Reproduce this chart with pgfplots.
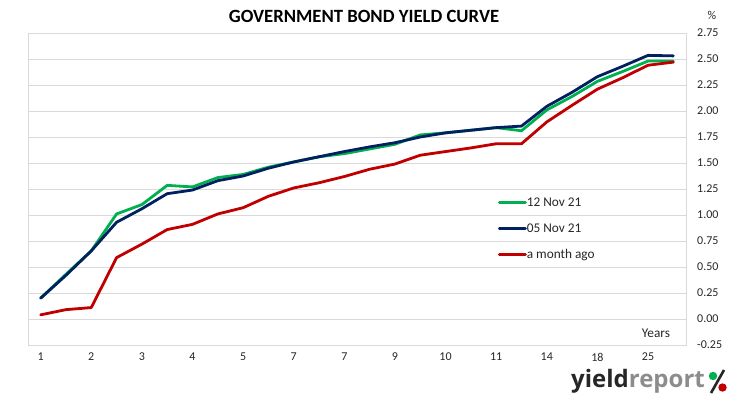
\documentclass[border=0pt]{standalone}
\usepackage{fontspec}
\setmainfont{Carlito}
\newfontfamily\logofont{Open Sans}
\usepackage{pgfplots}
\pgfplotsset{compat=1.18}
\definecolor{cgreen}{HTML}{00B050}
\definecolor{cnavy}{HTML}{002060}
\definecolor{cred}{HTML}{C00000}
\definecolor{cgrid}{HTML}{D9D9D9}
\definecolor{ctext}{HTML}{262626}
\begin{document}
\begin{tikzpicture}
\path[use as bounding box] (0,0) rectangle (733bp,-398bp);
\begin{axis}[
  at={(28bp,-345bp)}, anchor=south west,
  scale only axis, width=658bp, height=312bp,
  xmin=-0.5, xmax=25.5, ymin=-0.25, ymax=2.75,
  xtick={0,2,...,24},
  xticklabels={1,2,3,4,5,7,7,9,10,11,14,18,25},
  ytick={-0.25,0,0.25,0.5,0.75,1,1.25,1.5,1.75,2,2.25,2.5,2.75},
  yticklabel pos=right,
  /pgf/number format/assume math mode=true,
  yticklabel={\pgfmathprintnumber[fixed,fixed zerofill,precision=2]{\tick}},
  major tick length=0pt,
  ymajorgrids, grid style={cgrid, line width=0.75bp},
  axis line style={cgrid, line width=0.75bp},
  tick label style={font=\fontsize{12bp}{14bp}\selectfont, text=ctext},
  yticklabel style={anchor=west, inner sep=0pt, xshift=11bp},
  xticklabel style={anchor=north, inner sep=0pt, yshift=-8bp},
  legend style={at={(0.714,0.476)}, anchor=north west, draw=none, fill=none,
    inner sep=0pt, row sep=14bp, font=\fontsize{13.3bp}{15bp}\selectfont,
    text=ctext,
    nodes={inner sep=0pt, text height=9.5bp, text depth=2.5bp}},
  legend cell align=left,
  legend image code/.code={\draw[#1] (0bp,0bp) -- (26bp,0bp);},
  every axis plot/.append style={line width=2.8bp, line join=round, line cap=round},
]
\addplot[cgreen] coordinates {
(0,0.20) (1,0.43) (2,0.655) (3,1.01) (4,1.10) (5,1.285) (6,1.27) (7,1.36) (8,1.39) (9,1.46)
(10,1.51) (11,1.56) (12,1.59) (13,1.635) (14,1.68) (15,1.77) (16,1.79) (17,1.815) (18,1.84) (19,1.81)
(20,2.01) (21,2.14) (22,2.285) (23,2.38) (24,2.48) (25,2.48)};
\addlegendentry{12 Nov 21}
\addplot[cnavy] coordinates {
(0,0.20) (1,0.42) (2,0.655) (3,0.93) (4,1.06) (5,1.205) (6,1.24) (7,1.33) (8,1.375) (9,1.45)
(10,1.51) (11,1.56) (12,1.61) (13,1.655) (14,1.695) (15,1.75) (16,1.79) (17,1.815) (18,1.84) (19,1.855)
(20,2.045) (21,2.18) (22,2.33) (23,2.43) (24,2.535) (25,2.53)};
\addlegendentry{05 Nov 21}
\addplot[cred] coordinates {
(0,0.04) (1,0.09) (2,0.11) (3,0.59) (4,0.72) (5,0.86) (6,0.91) (7,1.01) (8,1.07) (9,1.18)
(10,1.26) (11,1.31) (12,1.37) (13,1.44) (14,1.49) (15,1.575) (16,1.61) (17,1.645) (18,1.685) (19,1.685)
(20,1.895) (21,2.055) (22,2.21) (23,2.32) (24,2.44) (25,2.47)};
\addlegendentry{a month ago}
\end{axis}
\node[font=\bfseries\fontsize{18.7bp}{20bp}\selectfont, text=black] at (364bp,-16bp) {GOVERNMENT BOND YIELD CURVE};
\node[font=\fontsize{12bp}{14bp}\selectfont, text=ctext] at (712bp,-15bp) {\%};
\node[font=\fontsize{13.3bp}{15bp}\selectfont, text=ctext] at (656bp,-333bp) {Years};
\node[anchor=base west, inner sep=0pt, font=\logofont\bfseries\fontsize{24bp}{26bp}\selectfont] at (571bp,-387bp) {\textcolor{ctext}{yield}\textcolor[HTML]{8C8C8C}{report}};
\fill[cgreen] (713bp,-376bp) circle (4.2bp);
\fill[cred] (722.5bp,-387.5bp) circle (4.2bp);
\draw[ctext, line width=2.6bp] (724bp,-370bp) -- (711bp,-393bp);
\end{tikzpicture}
\end{document}
